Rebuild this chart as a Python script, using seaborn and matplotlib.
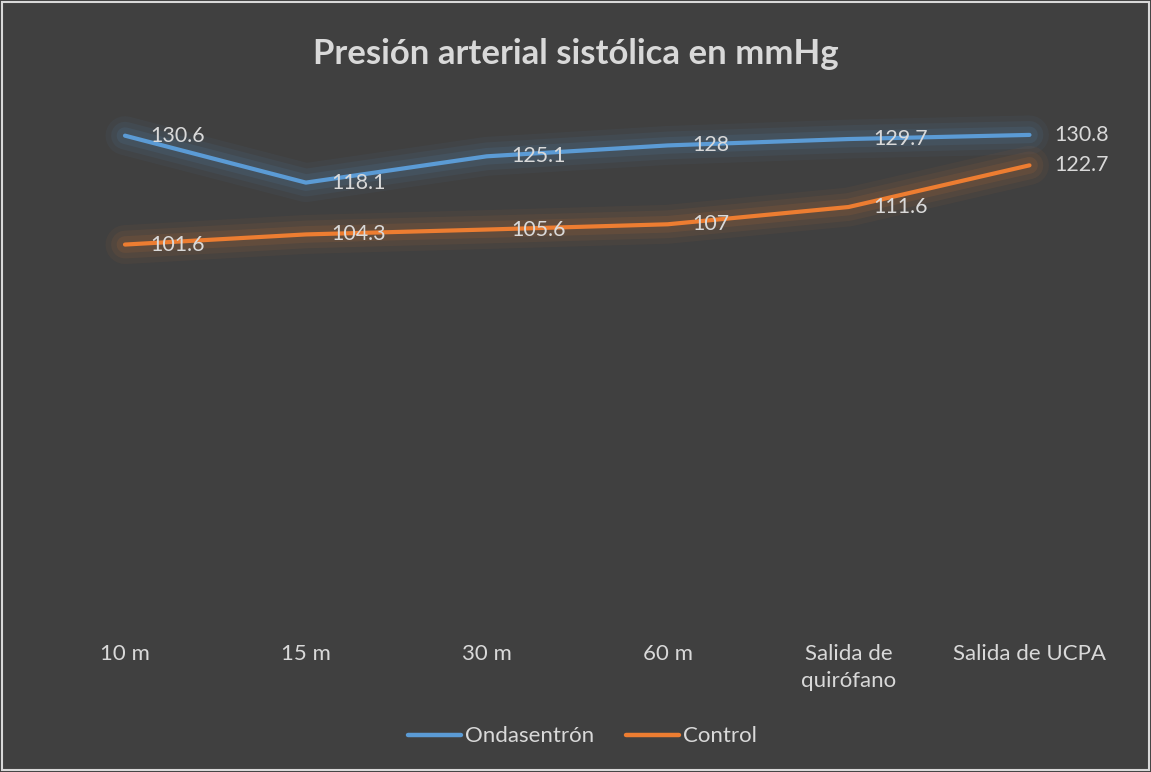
import matplotlib
matplotlib.use("Agg")
import matplotlib.pyplot as plt
import matplotlib.patheffects as pe
from matplotlib.patches import Rectangle
from matplotlib.lines import Line2D
import seaborn as sns
import pandas as pd

categories = ["10 m", "15 m", "30 m", "60 m", "Salida de\nquirófano", "Salida de UCPA"]
ondasentron = [130.6, 118.1, 125.1, 128, 129.7, 130.8]
control = [101.6, 104.3, 105.6, 107, 111.6, 122.7]
series_names = ["Ondasentrón", "Control"]
title = "Presión arterial sistólica en mmHg"

BG = "#404040"
TXT = "#D9D9D9"
BLUE = "#5B9BD5"
ORANGE = "#ED7D31"

sns.set_theme(style="dark")
plt.rcParams['font.family'] = ['Lato', 'DejaVu Sans']

df = pd.DataFrame({
    "cat": categories * 2,
    "x": list(range(len(categories))) * 2,
    "val": ondasentron + control,
    "serie": [series_names[0]] * len(categories) + [series_names[1]] * len(categories),
})

fig = plt.figure(figsize=(11.51, 7.72), dpi=100, facecolor=BG)
ax = fig.add_axes([0.030, 0.189, 0.943, 0.681])
ax.set_facecolor(BG)

sns.lineplot(data=df, x="x", y="val", hue="serie", palette=[BLUE, ORANGE],
             linewidth=3.0, sort=False, ax=ax, legend=False)

for line, col in zip(ax.lines, [BLUE, ORANGE]):
    line.set_solid_capstyle("round")
    line.set_path_effects([
        pe.Stroke(linewidth=28, foreground=col, alpha=0.05),
        pe.Stroke(linewidth=20, foreground=col, alpha=0.07),
        pe.Stroke(linewidth=12, foreground=col, alpha=0.10),
        pe.Normal(),
    ])

for vals in [ondasentron, control]:
    for i, v in enumerate(vals):
        ax.annotate(f"{v:g}", (i, v), xytext=(18, 0), textcoords="offset points",
                    ha="left", va="center", color=TXT, fontsize=15.4)

ax.set_xlim(-0.5, len(categories) - 0.5)
ax.set_ylim(0, 140)
ax.set_xticks(range(len(categories)))
ax.set_xticklabels(categories, color=TXT, fontsize=16, linespacing=1.45, va="top")
ax.tick_params(axis="x", length=0, pad=13)
ax.set_yticks([])
ax.set_xlabel("")
ax.set_ylabel("")
ax.grid(False)
for s in ax.spines.values():
    s.set_visible(False)

fig.suptitle(title, x=0.5, y=0.951, color=TXT, fontsize=25, fontweight="bold")

handles = [Line2D([], [], color=BLUE, linewidth=3.2), Line2D([], [], color=ORANGE, linewidth=3.2)]
fig.legend(handles, series_names, loc="center", bbox_to_anchor=(0.506, 0.046), ncol=2,
           frameon=False, fontsize=16, labelcolor=TXT, handlelength=2.4,
           handletextpad=0.2, columnspacing=1.4)

fig.patches.append(Rectangle((0.002, 0.002), 0.996, 0.996, transform=fig.transFigure,
                             fill=False, edgecolor="#D9D9D9", linewidth=1.5))

fig.savefig("out.png", dpi=100, facecolor=BG)
